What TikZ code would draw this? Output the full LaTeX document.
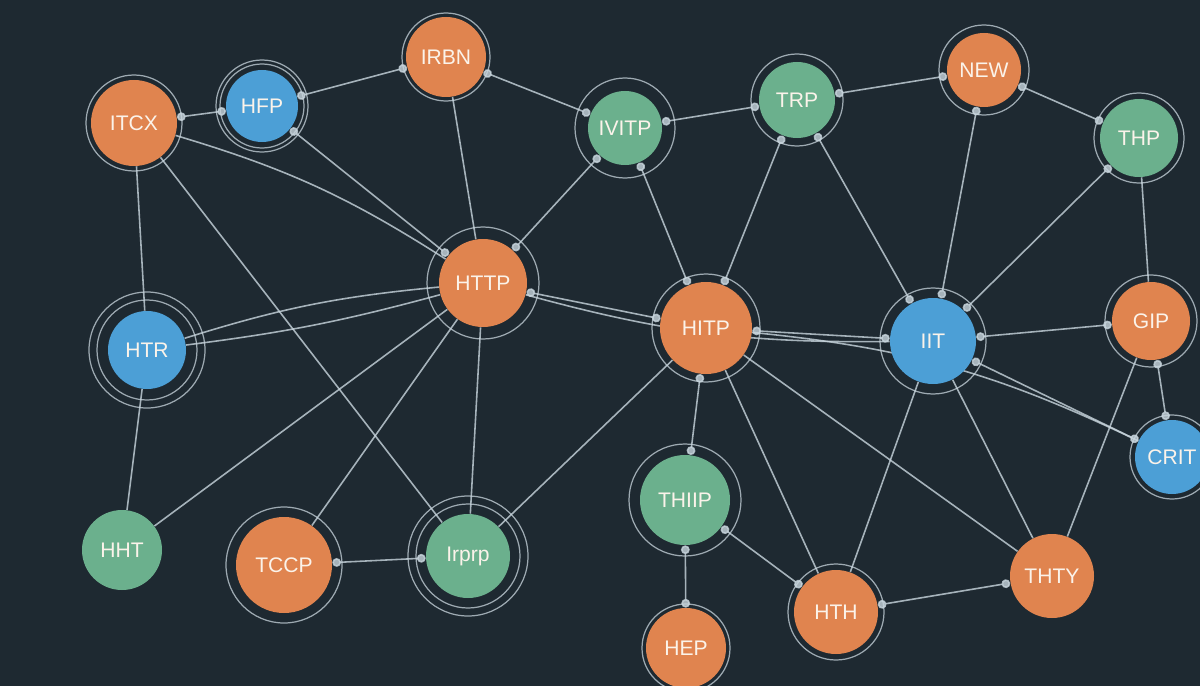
\documentclass[tikz,border=0pt]{standalone}
\usepackage{fontspec}
\setsansfont{Liberation Sans}
\usepackage{xcolor}
\usepackage{tikz}
\usetikzlibrary{arrows.meta, backgrounds}

\definecolor{board}{HTML}{1E2931}
\definecolor{wirec}{HTML}{C9D6DE}
\definecolor{orangec}{HTML}{E0844F}
\definecolor{bluec}{HTML}{4C9FD6}
\definecolor{greenc}{HTML}{6BB08D}
\definecolor{labelc}{HTML}{FBF3EA}

\begin{document}
\begin{tikzpicture}[
    x=0.02cm, y=-0.02cm,
    hub/.style    = {circle, inner sep=0pt, minimum size=#1*0.02cm,
                     font=\sffamily\fontsize{12}{12}\selectfont, text=labelc},
    ohub/.style   = {hub=#1, fill=orangec},
    bhub/.style   = {hub=#1, fill=bluec},
    ghub/.style   = {hub=#1, fill=greenc},
    ring/.style   = {draw=wirec, line width=0.7pt, opacity=0.75},
    wire/.style   = {draw=wirec, line width=0.9pt, opacity=0.8},
    dwire/.style  = {wire, {Circle[length=5pt, fill=wirec]}-{Circle[length=5pt, fill=wirec]}}
]

\useasboundingbox (0,0) rectangle (1200,686);

% ========= top row =========
\node[ohub=86] (itcx)  at (134,123)  {ITCX};
\node[bhub=72] (hfp)   at (262,106)  {HFP};
\node[ohub=80] (irbn)  at (446,57)   {IRBN};
\node[ghub=74] (ivitp) at (625,128)  {IVITP};
\node[ghub=76] (trp)   at (797,100)  {TRP};
\node[ohub=74] (new)   at (984,70)   {NEW};
\node[ghub=78] (thp)   at (1139,138) {THP};

% ========= middle row =========
\node[bhub=78] (htr)   at (147,350)  {HTR};
\node[ohub=88] (httpa) at (483,283)  {HTTP};
\node[ohub=92] (hitp)  at (706,328)  {HITP};
\node[bhub=86] (iit)   at (933,341)  {IIT};
\node[ohub=78] (gip)   at (1151,321) {GIP};
\node[bhub=74] (crit)  at (1172,457) {CRIT};

% ========= bottom row =========
\node[ghub=80] (hht)   at (122,550)  {HHT};
\node[ohub=96] (tccp)  at (284,565)  {TCCP};
\node[ghub=84] (irprp) at (468,556)  {Irprp};
\node[ghub=90] (thiip) at (685,500)  {THIIP};
\node[ohub=80] (hep)   at (686,648)  {HEP};
\node[ohub=84] (hth)   at (836,612)  {HTH};
\node[ohub=84] (thty)  at (1052,576) {THTY};

% ========= links =========
\begin{scope}[on background layer]
  \fill[board] (0,0) rectangle (1200,686);
  \foreach \a/\b in {itcx/hfp, hfp/irbn, irbn/ivitp, ivitp/trp, trp/new, new/thp,
                     hfp/httpa, ivitp/httpa, ivitp/hitp, trp/hitp, trp/iit,
                     new/iit, thp/iit, httpa/hitp, hitp/iit, iit/gip, iit/crit,
                     hitp/thiip, thiip/hep, thiip/hth, hth/thty, tccp/irprp,
                     gip/crit}
    \draw[dwire] (\a) -- (\b);
  \foreach \a/\b in {itcx/htr, irbn/httpa, thp/gip, htr/hht, hht/httpa,
                     tccp/httpa, irprp/httpa, irprp/hitp, hitp/hth, hitp/thty,
                     iit/hth, iit/thty, gip/thty, itcx/irprp}
    \draw[wire] (\a) -- (\b);
  \draw[wire] (htr) to[bend left=6]  (httpa);
  \draw[wire] (htr) to[bend right=4] (httpa);
  \draw[wire] (itcx) to[bend left=8] (httpa);
  \draw[wire] (httpa) to[bend right=8] (iit);
  \draw[wire] (hitp) to[bend left=10] (crit);

  % halos round the hubs
  \draw[ring] (itcx)  circle[radius=48];
  \draw[ring] (hfp)   circle[radius=42] (hfp) circle[radius=46];
  \draw[ring] (irbn)  circle[radius=44];
  \draw[ring] (ivitp) circle[radius=50];
  \draw[ring] (trp)   circle[radius=46];
  \draw[ring] (new)   circle[radius=45];
  \draw[ring] (thp)   circle[radius=45];
  \draw[ring] (htr)   circle[radius=50] (htr) circle[radius=58];
  \draw[ring] (httpa) circle[radius=56];
  \draw[ring] (hitp)  circle[radius=54];
  \draw[ring] (iit)   circle[radius=53];
  \draw[ring] (gip)   circle[radius=46];
  \draw[ring] (crit)  circle[radius=42];
  \draw[ring] (tccp)  circle[radius=58];
  \draw[ring] (irprp) circle[radius=52] (irprp) circle[radius=60];
  \draw[ring] (thiip) circle[radius=56];
  \draw[ring] (hth)   circle[radius=48];
  \draw[ring] (hep)   circle[radius=44];
\end{scope}
\end{tikzpicture}
\end{document}
